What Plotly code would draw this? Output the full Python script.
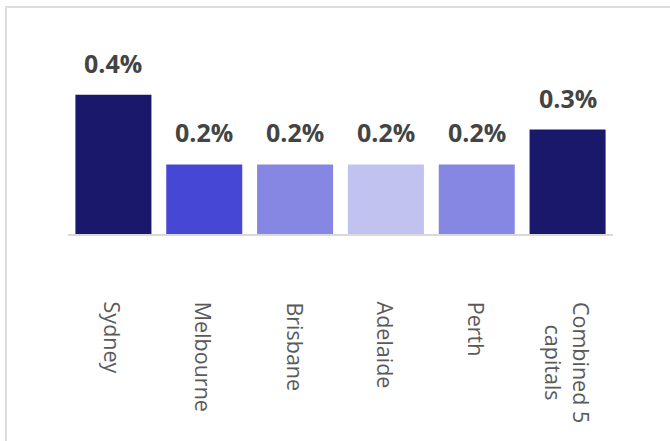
import plotly.graph_objects as go

categories = ["Sydney", "Melbourne", "Brisbane", "Adelaide", "Perth", "Combined 5<br>capitals"]
values = [0.4, 0.2, 0.2, 0.2, 0.2, 0.3]
value_labels = ["0.4%", "0.2%", "0.2%", "0.2%", "0.2%", "0.3%"]
colors = ["#1a186a", "#4747d5", "#8686e3", "#c2c2f0", "#8686e3", "#1a186a"]

fig = go.Figure()
fig.add_trace(go.Bar(
    x=categories, y=values,
    marker=dict(color=colors, line=dict(width=0)),
    hoverinfo="skip",
))

annotations = []
for c, v, t in zip(categories, values, value_labels):
    annotations.append(dict(
        x=c, y=v, xref="x", yref="y", text=t, showarrow=False,
        yanchor="middle", xanchor="center", yshift=32,
        font=dict(family="Open Sans", size=25, color="#444444", weight="bold"),
    ))
    annotations.append(dict(
        x=c, y=0, xref="x", yref="y", text=c, showarrow=False,
        textangle=90, yanchor="top", xanchor="center", yshift=-66,
        align="center",
        font=dict(family="Open Sans", size=21.5, color="#5a5a5a"),
    ))

fig.update_layout(
    width=670, height=441,
    margin=dict(l=68, r=57, t=60, b=207),
    paper_bgcolor="white", plot_bgcolor="white",
    bargap=0.163,
    showlegend=False,
    xaxis=dict(showticklabels=False, showline=True, linecolor="#d9d9d9", linewidth=2,
               ticks="", showgrid=False, zeroline=False),
    yaxis=dict(range=[0, 0.5], visible=False, showgrid=False, zeroline=False),
    annotations=annotations,
    shapes=[dict(type="rect", xref="paper", yref="paper",
                 x0=(6 - 68) / 545, x1=(690 - 68) / 545,
                 y0=(234 - 470) / 174, y1=(234 - 7) / 174,
                 line=dict(color="#dcdde3", width=2), fillcolor="rgba(0,0,0,0)",
                 layer="below")],
)

fig.write_html("out.html")
